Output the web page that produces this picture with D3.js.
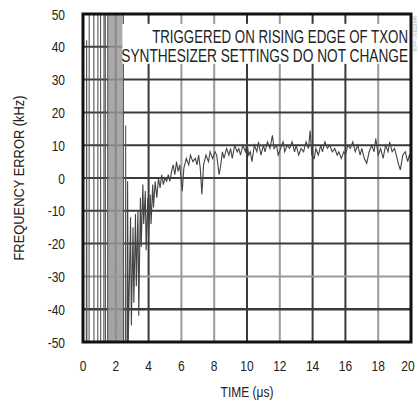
<!DOCTYPE html>
<html><head><meta charset="utf-8">
<script src="https://cdn.jsdelivr.net/npm/d3@7"></script>
<style>
html,body{margin:0;padding:0;background:#fff;}
svg{display:block;}
text{font-family:'Liberation Sans Narrow','Arial Narrow','Liberation Sans',sans-serif;fill:#222;}
</style></head>
<body>
<svg id="c" width="418" height="403"></svg>
<script>
// ---- data ----
const xTicks = [0,2,4,6,8,10,12,14,16,18,20];
const yTicks = [-50,-40,-30,-20,-10,0,10,20,30,40,50];
const darkX = [2,4,10,14,16];          // darker vertical grid lines
const darkY = [-40,-20,-10,0,10,20,30,40];
const noteLines = ["TRIGGERED ON RISING EDGE OF TXON","SYNTHESIZER SETTINGS DO NOT CHANGE"];
const noteWidths = [256,287];
const xLabel = "TIME (\u03bcs)";
const yLabel = "FREQUENCY ERROR (kHz)";
// unlocked part: rail-to-rail swings (off-scale beyond ±50 kHz)
const burstEdges = [[0,-60],[0.2,-60],[0.22,42],[0.24,-60],[0.37,-60],[0.38,60],[0.66,60],[0.67,-60],[0.9,-60],[0.91,60],[1.07,60],[1.08,-60],[1.27,-60],[1.28,60],[1.36,60],[1.37,-60],[1.5,-60],[1.51,60],[1.52,60],
[2.44,60],[2.46,60],[2.47,-60],[2.58,-60],[2.6,16],[2.62,-60],[2.7,-60]];
const burstBand = [[1.53,60],[1.56,-60],[1.59,60],[1.62,-60],[1.65,60],[1.68,-60],[1.71,60],[1.74,-60],[1.77,60],[1.8,-60],[1.83,60],[1.86,-60],[1.89,60],[1.92,-60],[1.95,60],[1.98,-60],[2.01,60],[2.04,-60],[2.07,60],[2.1,-60],[2.13,60],[2.16,-60],[2.19,60],[2.22,-60],[2.25,60],[2.28,-60],[2.31,60],[2.34,-60],[2.37,60],[2.4,-60],[2.44,60]];
// settling part
const settle = [[2.7,-60],[2.72,-1],[2.76,-50],[2.9,-12],[2.95,-45],[3.05,-15],[3.1,-38],[3.2,-11],[3.25,-33],[3.35,-10],[3.4,-42],[3.5,-6],[3.55,-21],[3.65,-2],[3.7,-14],[3.8,-4],[3.85,-22],[3.95,-6],[4.0,-18],[4.1,-5],[4.15,-14],[4.25,-2],[4.3,-9],[4.4,-1],[4.5,-6],[4.6,0],[4.7,-3],[4.8,1],[4.9,-2],[5.0,0],[5.1,-1],[5.2,1],[5.3,-1],[5.4,2],[5.5,4],[5.6,1],[5.7,5],[5.8,2],[5.9,4],[6.05,-4],[6.15,3],[6.3,6],[6.45,4],[6.55,7],[6.7,5],[6.85,6],[6.95,4],[7.05,7],[7.15,3],[7.25,-5],[7.35,4],[7.5,7],[7.65,5],[7.75,8],[7.9,6],[8.05,8],[8.15,7],[8.3,1],[8.4,4],[8.5,8],[8.6,6],[8.75,9],[8.9,7],[9.0,9],[9.1,6],[9.25,10],[9.4,8],[9.5,9],[9.6,7],[9.75,10],[9.9,8],[10.0,11],[10.1,7],[10.2,8],[10.3,5],[10.45,10],[10.6,8],[10.7,11],[10.85,7],[11.0,10],[11.1,8],[11.25,11],[11.4,9],[11.55,13],[11.65,9],[11.8,10],[11.9,7],[12.05,9],[12.2,11],[12.3,8],[12.45,10],[12.6,9],[12.75,11],[12.9,8],[13.0,10],[13.15,7],[13.3,9],[13.45,8],[13.6,11],[13.75,9],[13.85,14.5],[13.95,7],[14.1,6],[14.2,9],[14.35,7],[14.5,10],[14.6,8],[14.75,11],[14.9,9],[15.05,10],[15.2,8],[15.35,9],[15.5,7],[15.6,8],[15.75,6],[15.9,8],[16.0,7],[16.15,10],[16.3,9],[16.45,11],[16.6,8],[16.75,10],[16.9,7],[17.0,9],[17.15,6],[17.3,4.5],[17.45,8],[17.6,10],[17.75,8],[17.85,12],[18.0,7],[18.15,9],[18.3,6],[18.45,10],[18.6,8],[18.7,11],[18.85,8],[19.0,9],[19.1,7],[19.25,4],[19.35,2.5],[19.5,7],[19.65,8],[19.8,5],[19.9,7],[20.0,6]];

// ---- layout ----
const L = 83, R = 411, T = 14, B = 342;
const SX = 0.8; // horizontal condensing (narrow face)
const svg = d3.select("#c");
const x = d3.scaleLinear().domain([0,20]).range([L,R]);
const y = d3.scaleLinear().domain([-50,50]).range([B,T]);

svg.append("clipPath").attr("id","clip").append("rect")
  .attr("x",L).attr("y",T).attr("width",R-L).attr("height",B-T);

// grid
const grid = svg.append("g");
grid.selectAll("line.vx").data(xTicks.slice(1,-1)).join("line")
  .attr("x1",d=>x(d)).attr("x2",d=>x(d)).attr("y1",T).attr("y2",B)
  .attr("stroke",d=>darkX.includes(d)?"#3a3a3a":"#9a9a9a").attr("stroke-width",2);
grid.selectAll("line.hy").data(yTicks.slice(1,-1)).join("line")
  .attr("y1",d=>y(d)).attr("y2",d=>y(d)).attr("x1",L).attr("x2",R)
  .attr("stroke",d=>darkY.includes(d)?"#3a3a3a":"#9a9a9a")
  .attr("stroke-width",d=>d===-40?2.5:2);

// traces
const line = d3.line().x(d=>x(d[0])).y(d=>y(d[1]));
const plot = svg.append("g").attr("clip-path","url(#clip)");
plot.append("path").datum(burstBand).attr("d",line)
  .attr("fill","none").attr("stroke","#9a9a9a").attr("stroke-width",0.7);
plot.append("path").datum(burstEdges).attr("d",line)
  .attr("fill","none").attr("stroke","#555").attr("stroke-width",1.1);
plot.append("path").datum(settle).attr("d",line)
  .attr("fill","none").attr("stroke","#444").attr("stroke-width",1.1);

// note box
svg.append("rect").attr("x",x(2.4)).attr("y",y(47)).attr("width",R-x(2.4)-1).attr("height",y(34.8)-y(47))
  .attr("fill","#fff");
const note = svg.append("g");
note.selectAll("text").data(noteLines).join("text")
  .attr("text-anchor","end").attr("font-size",18)
  .text(d=>d)
  .each(function(d,i){
    const len = this.getComputedTextLength();
    d3.select(this).attr("transform",`translate(${R-3},${43+i*19}) scale(${noteWidths[i]/len},1)`);
  });

// frame
svg.append("rect").attr("x",L).attr("y",T).attr("width",R-L).attr("height",B-T)
  .attr("fill","none").attr("stroke","#111").attr("stroke-width",3);

// tick labels (condensed)
svg.append("g").selectAll("text").data(yTicks).join("text")
  .attr("transform",d=>`translate(65,${y(d)+5.5}) scale(${SX},1)`)
  .attr("text-anchor","end").attr("font-size",15)
  .text(d=>d);
svg.append("g").selectAll("text").data(xTicks).join("text")
  .attr("transform",d=>`translate(${Math.min(x(d),408)},371) scale(${SX},1)`)
  .attr("text-anchor","middle").attr("font-size",15)
  .text(d=>d);

// axis titles
svg.append("text").attr("transform",`translate(${x(10)},397) scale(${SX},1)`)
  .attr("text-anchor","middle").attr("font-size",15).text(xLabel);
svg.append("text").attr("transform",`translate(24,178) rotate(-90) scale(0.86,1)`).attr("text-anchor","middle")
  .attr("font-size",15).text(yLabel);

// small figure id
svg.append("text").attr("transform","translate(413,16) rotate(90)").attr("font-size",5)
  .style("fill","#aaa").text("MAX2900 toc09");
</script>
</body></html>
